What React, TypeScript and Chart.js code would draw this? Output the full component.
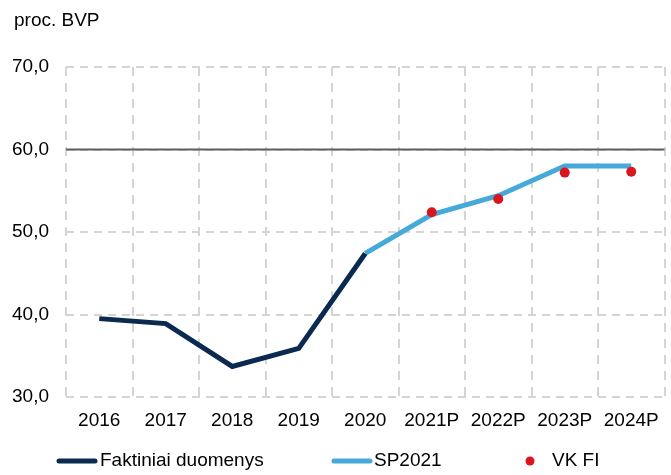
import React, { useEffect, useRef } from "react";
import { Chart, registerables } from "chart.js";

Chart.register(...registerables);

const categories = ["2016", "2017", "2018", "2019", "2020", "2021P", "2022P", "2023P", "2024P"];
const actual = [39.5, 38.9, 33.7, 35.9, 47.4, null, null, null, null];
const sp2021 = [null, null, null, null, 47.4, 52.1, 54.4, 58.0, 58.0];
const vkfi = [null, null, null, null, null, 52.4, 54.0, 57.2, 57.3];
const yTicks = [30, 40, 50, 60, 70];
const thresholdValue = 60;
const unitLabel = "proc. BVP";

const FONT = "'Liberation Sans', Arial, sans-serif";
const NAVY = "#0b2a50";
const BLUE = "#45a9da";
const RED = "#d9161e";

const overlayPlugin = {
  id: "overlay",
  beforeDatasetsDraw(chart: any) {
    const { ctx, chartArea, scales } = chart;
    const y = scales.y.getPixelForValue(thresholdValue);
    ctx.save();
    ctx.strokeStyle = "#5f5f5f";
    ctx.lineWidth = 2;
    ctx.beginPath();
    ctx.moveTo(chartArea.left, y);
    ctx.lineTo(chartArea.right, y);
    ctx.stroke();
    ctx.restore();
  },
  afterDraw(chart: any) {
    const { ctx } = chart;
    ctx.save();
    ctx.font = `19px ${FONT}`;
    ctx.fillStyle = "#000";
    ctx.textBaseline = "alphabetic";
    ctx.textAlign = "left";
    ctx.fillText(unitLabel, 14, 26);

    const ly = 461;
    ctx.textBaseline = "middle";
    const ds = chart.data.datasets;
    ctx.lineCap = "round";
    ctx.lineWidth = 5;
    ctx.strokeStyle = ds[0].borderColor;
    ctx.beginPath();
    ctx.moveTo(59, ly);
    ctx.lineTo(95, ly);
    ctx.stroke();
    ctx.fillStyle = "#000";
    ctx.fillText(ds[0].label, 100, ly);
    ctx.strokeStyle = ds[1].borderColor;
    ctx.beginPath();
    ctx.moveTo(334, ly);
    ctx.lineTo(370, ly);
    ctx.stroke();
    ctx.fillText(ds[1].label, 374, ly);
    ctx.fillStyle = ds[2].backgroundColor;
    ctx.beginPath();
    ctx.arc(530, ly, 4.5, 0, Math.PI * 2);
    ctx.fill();
    ctx.fillStyle = "#000";
    ctx.fillText(ds[2].label, 552, ly);
    ctx.restore();
  },
};

export default function App() {
  const ref = useRef<HTMLCanvasElement>(null);
  useEffect(() => {
    if (!ref.current) return;
    const chart = new Chart(ref.current, {
      type: "line",
      data: {
        labels: categories,
        datasets: [
          {
            label: "Faktiniai duomenys",
            data: actual,
            borderColor: NAVY,
            backgroundColor: NAVY,
            borderWidth: 5,
            pointRadius: 0,
            tension: 0,
            order: 2,
          },
          {
            label: "SP2021",
            data: sp2021,
            borderColor: BLUE,
            backgroundColor: BLUE,
            borderWidth: 5,
            pointRadius: 0,
            tension: 0,
            order: 3,
          },
          {
            label: "VK FI",
            data: vkfi,
            borderColor: RED,
            backgroundColor: RED,
            showLine: false,
            pointRadius: 5,
            pointBorderWidth: 0,
            order: 1,
          },
        ],
      },
      options: {
        animation: false,
        responsive: false,
        maintainAspectRatio: false,
        layout: { padding: { top: 67, right: 2, left: 0, bottom: 0 } },
        plugins: {
          legend: { display: false },
          tooltip: { enabled: false },
          title: { display: false },
        },
        scales: {
          x: {
            offset: true,
            grid: {
              offset: true,
              color: "#d4d4d4",
              lineWidth: 2,
              drawTicks: false,
            },
            border: { display: false, dash: [9, 7] },
            ticks: {
              color: "#000",
              font: { family: FONT, size: 19 },
              padding: 12,
              maxRotation: 0,
              autoSkip: false,
            },
            afterFit(scale: any) {
              scale.height = 78;
            },
          },
          y: {
            min: 30,
            max: 70,
            afterBuildTicks(scale: any) {
              scale.ticks = yTicks.map((v) => ({ value: v }));
            },
            grid: {
              color: "#d4d4d4",
              lineWidth: 2,
              drawTicks: false,
            },
            border: { display: false, dash: [8, 6] },
            ticks: {
              color: "#000",
              font: { family: FONT, size: 19 },
              padding: 17,
              callback: (v: any) => Number(v).toFixed(1).replace(".", ","),
            },
            afterFit(scale: any) {
              scale.width = 66;
            },
          },
        },
      },
      plugins: [overlayPlugin],
    });
    return () => chart.destroy();
  }, []);
  return (
    <div style={{ position: "fixed", left: 0, top: 0, width: 671, height: 475, background: "#fff" }}>
      <canvas ref={ref} width={671} height={475} style={{ width: 671, height: 475 }} />
    </div>
  );
}
